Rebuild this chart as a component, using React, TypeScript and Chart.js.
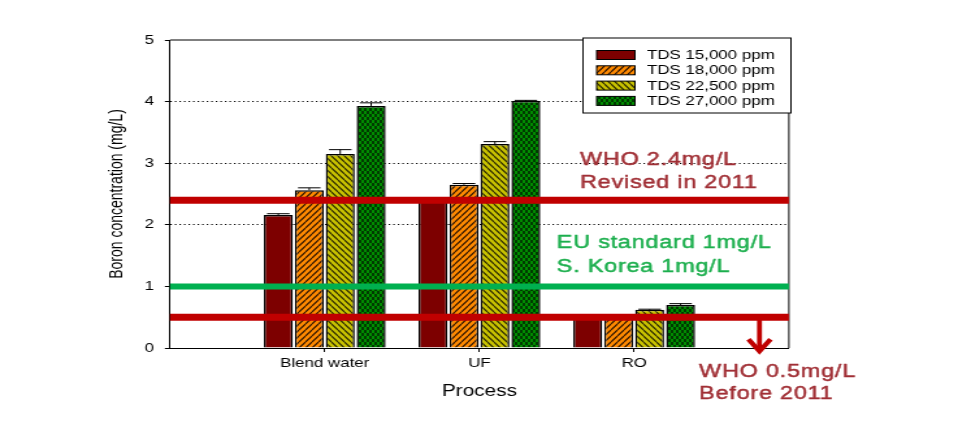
import React, { useEffect, useRef } from 'react';
import { Chart, registerables } from 'chart.js';

Chart.register(...registerables);

// ---------- data ----------
const categories = ['', 'Blend water', 'UF', 'RO', ''];
const seriesNames = ['TDS 15,000 ppm', 'TDS 18,000 ppm', 'TDS 22,500 ppm', 'TDS 27,000 ppm'];
const tds15000 = [null, 2.16, 2.40, 0.50, null];
const tds18000 = [null, 2.56, 2.65, 0.52, null];
const tds22500 = [null, 3.15, 3.31, 0.62, null];
const tds27000 = [null, 3.93, 4.01, 0.70, null];
const err15000 = [null, 0.02, 0.01, 0.01, null];
const err18000 = [null, 0.04, 0.02, 0.01, null];
const err22500 = [null, 0.07, 0.04, 0.01, null];
const err27000 = [null, 0.05, 0.01, 0.02, null];
const yTicks = [0, 1, 2, 3, 4, 5];
const dottedAt = [2, 3, 4];
const whoRevised = 2.4;
const euKorea = 1.0;
const whoOld = 0.5;

const noteLines = [
  ['WHO 2.4mg/L', 'Revised in 2011'],
  ['EU standard 1mg/L', 'S. Korea 1mg/L'],
  ['WHO 0.5mg/L', 'Before 2011'],
];
const noteX = [2.65, 2.5, 3.42];
const noteY = [[3.05, 2.68], [1.705, 1.315], [-0.39, -0.75]];
const noteColors = ['#A02F35', '#1DAF4E', '#A02F35'];
const arrowAt = 3.81;
const arrowFrom = 0.5;
const arrowTo = -0.085;

// ---------- layout / style ----------
const CSS_W = 958;
const CSS_H = 422;
const STRETCH = 1.3;
const CANVAS_W = Math.round(CSS_W / STRETCH);
const FONT = '"Liberation Sans", Arial, Helvetica, sans-serif';

function makeHatch(base: string, ink: string, dir: number) {
  const w = 5, h = 6;
  const c = document.createElement('canvas');
  c.width = w; c.height = h;
  const g = c.getContext('2d')!;
  g.fillStyle = base; g.fillRect(0, 0, w, h);
  g.strokeStyle = ink; g.lineWidth = 1.2;
  for (const dx of [-w, 0, w]) {
    g.beginPath();
    if (dir > 0) { g.moveTo(dx, h); g.lineTo(dx + w, 0); }
    else { g.moveTo(dx, 0); g.lineTo(dx + w, h); }
    g.stroke();
  }
  return g.createPattern(c, 'repeat')!;
}

function makeChecker(base: string, dark: string) {
  const w = 4, h = 6;
  const c = document.createElement('canvas');
  c.width = w; c.height = h;
  const g = c.getContext('2d')!;
  g.fillStyle = base; g.fillRect(0, 0, w, h);
  g.fillStyle = dark;
  g.fillRect(0, 0, 2, 3);
  g.fillRect(2, 3, 2, 3);
  return g.createPattern(c, 'repeat')!;
}

export default function App() {
  const ref = useRef<HTMLCanvasElement>(null);

  useEffect(() => {
    const canvas = ref.current!;
    const fills: any[] = [
      '#7D0000',
      makeHatch('#FF8A00', '#2a1200', 1),
      makeHatch('#C8C200', '#2a2800', -1),
      makeChecker('#008C00', '#003A00'),
    ];
    const values = [tds15000, tds18000, tds22500, tds27000];
    const errors = [err15000, err18000, err22500, err27000];

    const barSets = values.map((v, i) => ({
      type: 'bar' as const,
      label: seriesNames[i],
      data: v,
      errorBars: errors[i],
      backgroundColor: fills[i],
      borderColor: '#000',
      borderWidth: 1.5,
      categoryPercentage: 0.8,
      barPercentage: 0.935,
      order: 2,
    }));
    const refLine = (label: string, val: number, color: string, width: number) => ({
      type: 'line' as const,
      label,
      data: categories.map(() => val),
      borderColor: color,
      backgroundColor: color,
      borderWidth: width,
      pointRadius: 0,
      borderCapStyle: 'butt',
      fill: false,
      order: 1,
    });

    const framePlugin = {
      id: 'frame',
      beforeDatasetsDraw(chart: any) {
        const { ctx, chartArea: a } = chart;
        ctx.save();
        ctx.strokeStyle = '#000';
        ctx.lineWidth = 1;
        ctx.beginPath();
        ctx.moveTo(a.left, a.top);
        ctx.lineTo(a.right, a.top);
        ctx.lineTo(a.right, a.bottom);
        ctx.stroke();
        ctx.restore();
      },
    };

    const errorPlugin = {
      id: 'errbars',
      afterDatasetDraw(chart: any, args: any) {
        const meta = args.meta;
        if (meta.type !== 'bar') return;
        const ds: any = chart.data.datasets[args.index];
        const errs = ds.errorBars || [];
        const y = chart.scales.y;
        const { ctx } = chart;
        ctx.save();
        ctx.strokeStyle = '#000';
        ctx.lineWidth = 1;
        meta.data.forEach((el: any, i: number) => {
          const v = ds.data[i];
          const e = errs[i];
          if (v == null || e == null) return;
          const top = y.getPixelForValue(v + e);
          const half = el.width * 0.39;
          ctx.beginPath();
          ctx.moveTo(el.x, el.y);
          ctx.lineTo(el.x, top);
          ctx.moveTo(el.x - half, top);
          ctx.lineTo(el.x + half, top);
          ctx.stroke();
        });
        ctx.restore();
      },
    };

    const overlayPlugin = {
      id: 'overlay',
      afterDraw(chart: any) {
        const { ctx, chartArea: a } = chart;
        const xs = chart.scales.x;
        const ys = chart.scales.y;

        // arrow
        const ax = xs.getPixelForValue(arrowAt);
        const y0 = ys.getPixelForValue(arrowFrom);
        const y1 = ys.getPixelForValue(arrowTo);
        ctx.save();
        ctx.strokeStyle = '#C00000';
        ctx.lineWidth = 3.8;
        ctx.beginPath();
        ctx.moveTo(ax, y0);
        ctx.lineTo(ax, y1 - 2);
        ctx.stroke();
        ctx.lineWidth = 4;
        ctx.lineJoin = 'miter';
        ctx.beginPath();
        ctx.moveTo(ax - 8.5, y1 - 14);
        ctx.lineTo(ax, y1 - 2);
        ctx.lineTo(ax + 8.5, y1 - 14);
        ctx.stroke();
        ctx.restore();

        // notes
        ctx.save();
        ctx.font = `18px ${FONT}`;
        try { (ctx as any).letterSpacing = '0.6px'; } catch (e) { /* ignore */ }
        ctx.textAlign = 'left';
        ctx.textBaseline = 'middle';
        ctx.lineWidth = 0.45;
        ctx.lineJoin = 'round';
        noteLines.forEach((lines, i) => {
          ctx.fillStyle = noteColors[i];
          ctx.strokeStyle = noteColors[i];
          const x = xs.getPixelForValue(noteX[i]);
          lines.forEach((t, j) => {
            const ty = ys.getPixelForValue(noteY[i][j]);
            ctx.fillText(t, x, ty);
            ctx.strokeText(t, x, ty);
          });
        });
        ctx.restore();

        // legend
        const bw = 160, bh = 75;
        const bx = a.right + 1.6 - bw;
        const by = a.top - 2;
        ctx.save();
        ctx.fillStyle = '#fff';
        ctx.fillRect(bx, by, bw, bh);
        ctx.strokeStyle = '#000';
        ctx.lineWidth = 1;
        ctx.strokeRect(bx, by, bw, bh);
        ctx.font = `13px ${FONT}`;
        ctx.textBaseline = 'middle';
        ctx.textAlign = 'left';
        seriesNames.forEach((name, i) => {
          const cy = by + 17 + i * 15.3;
          ctx.fillStyle = fills[i];
          ctx.fillRect(bx + 10.5, cy - 4.5, 29.5, 9);
          ctx.strokeStyle = '#000';
          ctx.lineWidth = 1;
          ctx.strokeRect(bx + 10.5, cy - 4.5, 29.5, 9);
          ctx.fillStyle = '#000';
          ctx.fillText(name, bx + 49.2, cy + 0.5);
        });
        ctx.restore();
      },
    };

    Chart.defaults.font.family = FONT;

    const chart = new Chart(canvas, {
      data: {
        labels: categories,
        datasets: [
          ...barSets,
          refLine('WHO 2.4mg/L', whoRevised, '#C00000', 7),
          refLine('EU 1mg/L', euKorea, '#00B050', 6),
          refLine('WHO 0.5mg/L', whoOld, '#C00000', 7),
        ] as any,
      },
      options: {
        responsive: false,
        animation: false,
        devicePixelRatio: 1,
        layout: { padding: { left: 78, right: CANVAS_W - 606.9, top: 40, bottom: 17 } },
        plugins: { legend: { display: false }, tooltip: { enabled: false } },
        scales: {
          x: {
            type: 'category',
            offset: false,
            afterFit: (s: any) => { s.height = 57; },
            grid: {
              offset: false,
              drawOnChartArea: false,
              drawTicks: true,
              tickLength: 4,
              color: '#000',
              tickColor: (c: any) => (categories[c.index] ? '#000' : 'rgba(0,0,0,0)'),
            },
            border: { display: true, color: '#000', width: 1 },
            ticks: { color: '#000', font: { size: 13, family: FONT }, padding: 4, autoSkip: false, maxRotation: 0 },
            title: { display: true, text: 'Process', color: '#000', font: { size: 16, family: FONT }, padding: { top: 4, bottom: 4 } },
          },
          y: {
            min: 0,
            max: 5,
            afterFit: (s: any) => { s.width = 52.8; },
            afterBuildTicks: (s: any) => { s.ticks = yTicks.map((v) => ({ value: v })); },
            ticks: { color: '#000', font: { size: 13, family: FONT }, padding: 8.3 },
            grid: {
              lineWidth: 1,
              tickLength: 4,
              tickColor: '#000',
              color: (c: any) => (c.tick && dottedAt.includes(c.tick.value) ? '#000' : 'rgba(0,0,0,0)'),
            },
            border: { display: true, color: '#000', width: 1, dash: [1.2, 2.3] },
            title: { display: true, text: 'Boron concentration (mg/L)', color: '#000', font: { size: 14, family: FONT }, padding: { top: 4, bottom: 4 } },
          },
        },
      } as any,
      plugins: [framePlugin, errorPlugin, overlayPlugin],
    } as any);

    return () => chart.destroy();
  }, []);

  return (
    <div style={{ position: 'fixed', left: 0, top: 0, width: CSS_W, height: CSS_H, background: '#fff' }}>
      <canvas
        ref={ref}
        width={CANVAS_W}
        height={CSS_H}
        style={{ width: `${CSS_W}px`, height: `${CSS_H}px`, display: 'block' }}
      />
    </div>
  );
}
